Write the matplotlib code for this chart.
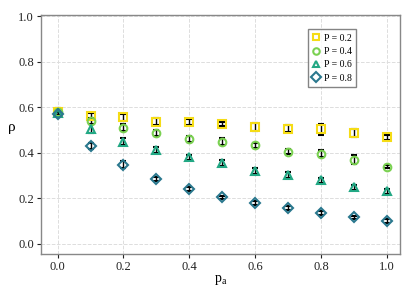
import numpy as np
import matplotlib
matplotlib.use("Agg")
import matplotlib.pyplot as plt

plt.rcParams['font.family'] = ['Liberation Serif', 'DejaVu Serif']
plt.rcParams['mathtext.fontset'] = 'custom'
plt.rcParams['mathtext.rm'] = 'Liberation Serif'

# data
pa = [0.0, 0.1, 0.2, 0.3, 0.4, 0.5, 0.6, 0.7, 0.8, 0.9, 1.0]
rho_02 = [0.580, 0.560, 0.556, 0.537, 0.534, 0.527, 0.512, 0.505, 0.502, 0.486, 0.468]
rho_04 = [0.578, 0.540, 0.510, 0.486, 0.461, 0.449, 0.432, 0.405, 0.395, 0.370, 0.339]
rho_06 = [0.575, 0.505, 0.449, 0.413, 0.380, 0.355, 0.319, 0.303, 0.278, 0.248, 0.230]
rho_08 = [0.570, 0.429, 0.348, 0.285, 0.241, 0.204, 0.178, 0.157, 0.135, 0.116, 0.101]
err_02 = [0.015, 0.015, 0.016, 0.015, 0.012, 0.010, 0.018, 0.016, 0.023, 0.016, 0.010]
err_04 = [0.012, 0.012, 0.014, 0.012, 0.012, 0.014, 0.010, 0.010, 0.015, 0.020, 0.008]
err_06 = [0.010, 0.020, 0.015, 0.014, 0.010, 0.012, 0.012, 0.012, 0.012, 0.012, 0.012]
err_08 = [0.008, 0.012, 0.016, 0.008, 0.008, 0.008, 0.008, 0.008, 0.008, 0.008, 0.010]
labels = ['P = 0.2', 'P = 0.4', 'P = 0.6', 'P = 0.8']

series = [rho_02, rho_04, rho_06, rho_08]
errors = [err_02, err_04, err_06, err_08]
colors = ['#f5dc16', '#7ad151', '#22a884', '#2a788e']
markers = ['s', 'o', '^', 'D']

fig = plt.figure(figsize=(4.07, 2.88), dpi=100)
ax = fig.add_axes([0.101, 0.118, 0.882, 0.83])

for y, e, c, m, lab in zip(series, errors, colors, markers, labels):
    ax.errorbar(pa, y, yerr=e, fmt=m, color=c, markerfacecolor='none',
                markeredgewidth=1.5, markersize=5.5, ecolor='black',
                elinewidth=1.0, capsize=2.5, capthick=1.0, label=lab)

ax.set_xlim(-0.05, 1.04)
ax.set_ylim(-0.045, 1.005)
ax.set_xticks([0.0, 0.2, 0.4, 0.6, 0.8, 1.0])
ax.set_yticks([0.0, 0.2, 0.4, 0.6, 0.8, 1.0])
ax.tick_params(labelsize=9, colors='#222222', length=3, width=0.8, pad=2)
ax.grid(color='#dddddd', linestyle='--', linewidth=0.7)
ax.set_axisbelow(True)
for s in ax.spines.values():
    s.set_color('#888888')
    s.set_linewidth(1.0)

ax.set_xlabel(r'$\mathrm{p_a}$', fontsize=10, labelpad=0)
ax.set_ylabel('ρ', fontsize=11, rotation=0, labelpad=5)

handles, labs = ax.get_legend_handles_labels()
handles = [h[0] for h in handles]
leg = ax.legend(handles, labs, loc='upper right', bbox_to_anchor=(0.877, 0.94),
                borderaxespad=0, fontsize=7, frameon=True, fancybox=False,
                handlelength=0.7, handletextpad=0.4, borderpad=0.45,
                labelspacing=0.45, markerscale=0.85)
leg.get_frame().set_edgecolor('#666666')
leg.get_frame().set_linewidth(1.0)

fig.savefig('out.png', dpi=100)
